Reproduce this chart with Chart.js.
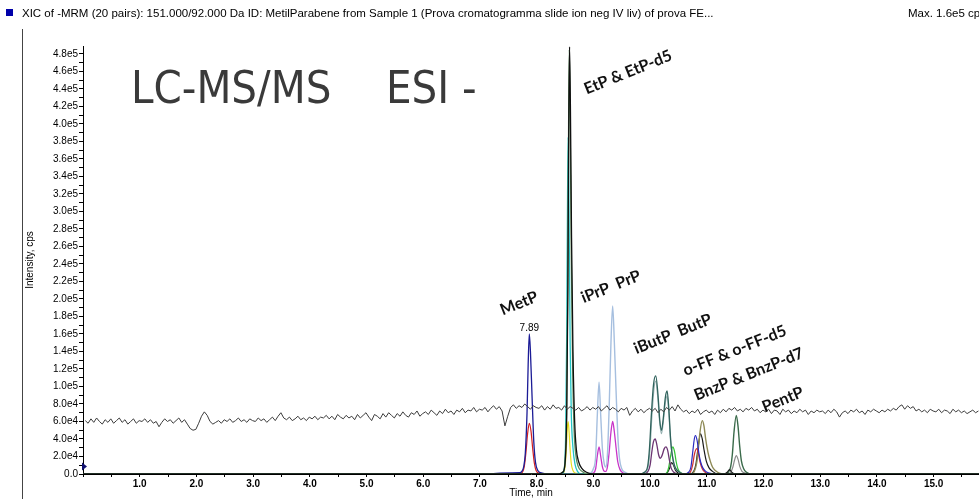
<!DOCTYPE html>
<html><head><meta charset="utf-8">
<script src="https://cdn.jsdelivr.net/npm/chart.js@4.4.1/dist/chart.umd.min.js"></script>
<style>html,body{margin:0;padding:0;background:#fff;overflow:hidden}canvas{display:block}</style>
</head><body><canvas id="c" width="979" height="499"></canvas>
<script>
// ---------------- texts ----------------
const HEADER_TEXT = "XIC of -MRM (20 pairs): 151.000/92.000 Da ID: MetilParabene from Sample 1 (Prova cromatogramma slide ion neg IV liv) of prova FE...";
const MAX_TEXT = "Max. 1.6e5 cps.";
const TITLE_LEFT = "LC-MS/MS";
const TITLE_RIGHT = "ESI -";
const X_TITLE = "Time, min";
const Y_TITLE = "Intensity, cps";
const APEX_LABEL = "7.89";
const PEAK_NAMES = ["MetP", "EtP & EtP-d5", "iPrP  PrP", "iButP  ButP", "o-FF & o-FF-d5", "BnzP & BnzP-d7", "PentP"];

// ---------------- tick labels ----------------
const X_TICK_LABELS = ["1.0","2.0","3.0","4.0","5.0","6.0","7.0","8.0","9.0","10.0","11.0","12.0","13.0","14.0","15.0"];
const Y_TICK_LABELS = ["0.0","2.0e4","4.0e4","6.0e4","8.0e4","1.0e5","1.2e5","1.4e5","1.6e5","1.8e5","2.0e5","2.2e5","2.4e5","2.6e5","2.8e5","3.0e5","3.2e5","3.4e5","3.6e5","3.8e5","4.0e5","4.2e5","4.4e5","4.6e5","4.8e5"];

// ---------------- data (time in min, intensity in thousands of cps) ----------------
// total ion noise trace, sampled every 0.05 min from 0.04 min
const NOISE_T0 = 0.04, NOISE_DT = 0.05;
const noiseTrace = [
 61,58,63,59,64,60,57,62,59,63,58,61,64,59,62,57,60,63,58,61,
 60,63,59,62,58,60,54,59,63,60,62,58,61,64,59,62,57,52,50,51,
 58,66,71,67,60,57,59,61,58,62,60,63,59,61,64,60,62,59,63,61,
 60,64,61,63,59,62,65,61,66,70,64,62,65,61,63,66,62,64,61,65,
 63,66,62,65,64,67,63,66,62,68,65,63,67,64,66,62,68,64,67,70,
 65,61,68,66,63,69,65,70,67,64,69,66,71,67,65,70,68,72,66,69,
 71,68,73,70,67,72,69,74,70,72,68,73,71,75,70,73,72,76,71,74,
 73,76,71,75,78,74,77,72,55,66,76,79,75,78,76,80,77,74,78,76,
 75,78,73,77,74,79,75,76,73,78,74,77,75,73,76,72,74,77,73,76,
 74,77,72,75,78,73,76,74,71,75,73,76,67,72,75,71,74,70,73,75,
 72,75,70,74,71,76,73,77,72,79,74,71,73,69,72,70,74,68,71,73,
 70,72,68,73,70,74,71,75,73,76,72,74,71,75,73,76,72,74,70,73,
 71,74,69,73,72,68,74,71,73,69,72,70,74,71,73,68,72,70,73,71,
 72,69,73,70,74,71,65,70,72,69,73,71,74,70,72,68,73,71,74,72,
 70,73,71,74,72,75,73,77,79,74,78,75,77,72,74,71,73,70,74,72,
 71,74,70,73,72,69,74,71,73,70,72,69,71,73,70,72
];
const metpBlue = [[7.20,0.5],[7.35,1],[7.55,1.3],[7.70,1.5],[7.74,3],[7.77,8],[7.80,24],[7.83,70],[7.85,125],[7.87,160],[7.89,140],[7.92,86],[7.95,36],[7.98,13],[8.02,4],[8.10,1],[8.30,0]];
const metpRed = [[7.68,0],[7.75,2],[7.78,8],[7.81,24],[7.84,46],[7.87,58],[7.90,49],[7.93,29],[7.96,12],[7.99,4],[8.04,1],[8.20,0]];
const etpBlack = [[8.38,0],[8.46,2],[8.50,12],[8.53,70],[8.55,210],[8.565,390],[8.58,488],[8.595,420],[8.615,270],[8.64,140],[8.67,60],[8.70,28],[8.74,14],[8.80,6],[8.88,2],[9.00,0]];
const etpGreen = [[8.38,0],[8.47,3],[8.50,15],[8.53,80],[8.55,230],[8.563,400],[8.575,485],[8.59,410],[8.61,250],[8.635,120],[8.66,50],[8.69,22],[8.73,9],[8.80,3],[8.90,0]];
const etpCyan = [[8.40,0],[8.46,1],[8.49,8],[8.51,40],[8.53,160],[8.545,320],[8.555,385],[8.57,300],[8.59,150],[8.61,70],[8.64,30],[8.68,10],[8.72,3],[8.78,0]];
const etpYellow = [[8.42,0],[8.47,1],[8.50,8],[8.52,25],[8.54,52],[8.555,60],[8.57,50],[8.59,28],[8.61,12],[8.64,4],[8.68,1],[8.75,0]];
const prpLightBlue = [[8.85,0],[8.95,1],[9.00,6],[9.04,20],[9.07,68],[9.10,105],[9.13,66],[9.16,28],[9.19,12],[9.22,8],[9.25,25],[9.28,80],[9.31,150],[9.34,192],[9.37,150],[9.40,95],[9.43,45],[9.46,18],[9.50,6],[9.56,2],[9.65,0]];
const prpMagenta = [[8.90,0],[9.00,1],[9.04,6],[9.07,21],[9.10,31],[9.13,20],[9.16,8],[9.20,3],[9.22,3],[9.25,9],[9.28,26],[9.31,48],[9.34,60],[9.37,48],[9.40,30],[9.43,14],[9.47,5],[9.53,1],[9.62,0]];
const butpTeal = [[9.80,0],[9.90,2],[9.96,10],[9.99,30],[10.02,65],[10.06,102],[10.10,112],[10.14,90],[10.17,62],[10.20,50],[10.23,62],[10.27,88],[10.30,95],[10.33,75],[10.36,42],[10.38,27],[10.41,15],[10.44,8],[10.50,3],[10.60,0]];
const butpLight = [[9.82,0],[9.92,2],[9.97,10],[10.00,30],[10.03,64],[10.07,98],[10.10,106],[10.14,84],[10.17,58],[10.20,46],[10.23,58],[10.27,82],[10.30,89],[10.33,70],[10.36,38],[10.39,22],[10.42,11],[10.46,5],[10.52,2],[10.60,0]];
const butpPurple = [[9.85,0],[9.95,2],[10.00,10],[10.03,25],[10.06,37],[10.09,40],[10.12,33],[10.15,22],[10.18,18],[10.21,21],[10.25,29],[10.28,31],[10.31,27],[10.34,16],[10.37,7],[10.42,2],[10.50,0]];
const offGreen = [[10.25,0],[10.30,2],[10.33,8],[10.36,20],[10.40,31],[10.43,26],[10.46,14],[10.49,6],[10.53,2],[10.60,0]];
const offBlack = [[10.25,0],[10.31,2],[10.34,6],[10.38,13],[10.42,9],[10.45,4],[10.50,1],[10.56,0],[11.30,0],[11.36,2],[11.40,5],[11.44,2],[11.50,0]];
const bnzBlue = [[10.60,0],[10.68,2],[10.72,8],[10.75,24],[10.78,40],[10.80,44],[10.83,38],[10.86,24],[10.89,14],[10.93,7],[10.98,3],[11.05,1],[11.15,0]];
const bnzRed = [[10.65,0],[10.71,2],[10.75,10],[10.78,22],[10.82,29],[10.85,24],[10.88,14],[10.92,6],[10.97,2],[11.05,0]];
const bnzOlive = [[10.72,0],[10.78,3],[10.82,12],[10.85,28],[10.88,48],[10.92,61],[10.95,55],[10.98,40],[11.02,25],[11.06,15],[11.10,8],[11.15,4],[11.22,1],[11.30,0]];
const bnzBlack = [[10.70,0],[10.77,3],[10.81,12],[10.85,32],[10.89,46],[10.92,40],[10.95,28],[10.99,15],[11.04,7],[11.10,3],[11.20,0]];
const pentGreen = [[11.30,0],[11.38,2],[11.42,8],[11.45,22],[11.48,48],[11.52,67],[11.55,55],[11.58,32],[11.61,15],[11.65,6],[11.70,2],[11.80,0]];
const pentGray = [[11.35,0],[11.42,2],[11.46,8],[11.49,16],[11.52,21],[11.55,17],[11.58,9],[11.62,3],[11.68,1],[11.75,0]];

// ---------------- chart ----------------
const X_MIN = 0, X_MAX = 15.8, Y_MIN = 0, Y_MAX = 489;
const FONT = '"Liberation Sans", Arial, sans-serif';

function peakSet(points, color, width, order) {
  const data = [{x: X_MIN, y: 0}].concat(points.map(p => ({x: p[0], y: p[1]})), [{x: X_MAX, y: 0}]);
  return {data, borderColor: color, borderWidth: width || 1.2, cubicInterpolationMode: 'monotone', pointRadius: 0, order: order || 5};
}
const noiseData = noiseTrace.map((v, i) => ({x: NOISE_T0 + i * NOISE_DT, y: v}));

const datasets = [
  {data: noiseData, borderColor: '#3c3c3c', borderWidth: 1, tension: 0, pointRadius: 0, order: 1},
  peakSet(etpBlack, '#101010', 1.3, 2),
  peakSet(etpGreen, '#5a8a5a', 1.3, 3),
  peakSet(etpCyan, '#22c4c4', 1.3, 4),
  peakSet(etpYellow, '#e6dc1e', 1.2),
  peakSet(metpBlue, '#1b1b96', 1.3),
  peakSet(metpRed, '#d42020', 1.2),
  peakSet(prpLightBlue, '#a6bfdf', 1.4),
  peakSet(prpMagenta, '#c834c8', 1.3),
  peakSet(butpTeal, '#2f625c', 1.3, 3),
  peakSet(butpLight, '#9ab4b4', 1.2, 4),
  peakSet(butpPurple, '#6c3572', 1.3),
  peakSet(offGreen, '#33c433', 1.2),
  peakSet(offBlack, '#1a1a1a', 1.2),
  peakSet(bnzBlue, '#2a2ac0', 1.2),
  peakSet(bnzRed, '#d03030', 1.2),
  peakSet(bnzOlive, '#8e8a56', 1.4),
  peakSet(bnzBlack, '#1a1a1a', 1.2),
  peakSet(pentGreen, '#3a6a4a', 1.4),
  peakSet(pentGray, '#8a8a8a', 1.2)
];

const PEAK_LABEL_ANCHORS = [[7.69,195],[9.61,459],[9.31,214],[10.40,160],[11.49,141],[11.74,114],[12.34,85]];

const overlay = {
  id: 'overlay',
  afterDraw(chart) {
    const {ctx, scales: {x, y}} = chart;
    ctx.save();
    // header
    ctx.fillStyle = '#0000aa';
    ctx.fillRect(6, 9, 7, 7);
    ctx.fillStyle = '#000';
    ctx.font = '11.5px ' + FONT;
    ctx.textAlign = 'left';
    ctx.textBaseline = 'middle';
    ctx.fillText(HEADER_TEXT, 22, 14);
    ctx.fillText(MAX_TEXT, 908, 14);
    // panel border
    ctx.strokeStyle = '#444';
    ctx.lineWidth = 1;
    ctx.beginPath(); ctx.moveTo(22.5, 29); ctx.lineTo(22.5, 499); ctx.stroke();
    // big title
    ctx.fillStyle = '#3a3a3a';
    ctx.font = '45px "DejaVu Sans Condensed", "DejaVu Sans", sans-serif';
    ctx.textBaseline = 'alphabetic';
    ctx.fillText(TITLE_LEFT, 131, 103);
    ctx.fillText(TITLE_RIGHT, 386, 103);
    // peak name annotations
    ctx.fillStyle = '#111';
    ctx.font = 'bold 16px Lato, "Open Sans", sans-serif';
    ctx.textAlign = 'center';
    ctx.textBaseline = 'middle';
    PEAK_NAMES.forEach((name, i) => {
      const a = PEAK_LABEL_ANCHORS[i];
      ctx.save();
      ctx.translate(x.getPixelForValue(a[0]), y.getPixelForValue(a[1]));
      ctx.rotate(-22 * Math.PI / 180);
      ctx.fillText(name, 0, 0);
      ctx.restore();
    });
    // apex label
    ctx.font = '10px ' + FONT;
    ctx.fillStyle = '#000';
    ctx.textBaseline = 'bottom';
    ctx.fillText(APEX_LABEL, x.getPixelForValue(7.87), y.getPixelForValue(160) - 1);
    // start marker on y axis
    const mx = x.getPixelForValue(0), my = y.getPixelForValue(8.6);
    ctx.fillStyle = '#101070';
    ctx.beginPath(); ctx.moveTo(mx - 1, my - 4); ctx.lineTo(mx + 4, my); ctx.lineTo(mx - 1, my + 4); ctx.closePath(); ctx.fill();
    ctx.restore();
  }
};

new Chart(document.getElementById('c'), {
  type: 'line',
  data: {datasets},
  options: {
    responsive: false, animation: false, devicePixelRatio: 1,
    layout: {padding: {top: 46, left: 0, right: 0, bottom: 0}},
    plugins: {legend: {display: false}, tooltip: {enabled: false}},
    elements: {point: {radius: 0}},
    scales: {
      x: {
        type: 'linear', min: X_MIN, max: X_MAX,
        afterFit(s) { s.height = 25; },
        ticks: {stepSize: 0.5, autoSkip: false, maxRotation: 0, includeBounds: false, padding: 1, color: '#000',
          font: {family: FONT, size: 10, weight: 'bold'},
          callback(v) { const r = Math.round(v * 2) / 2; return (Number.isInteger(r) && r >= 1) ? X_TICK_LABELS[r - 1] : ''; }},
        grid: {drawOnChartArea: false, tickLength: 3, color: '#000'},
        border: {display: true, color: '#000', width: 1},
        title: {display: true, text: X_TITLE, color: '#000', padding: {top: 0, bottom: 0}, font: {family: FONT, size: 10}}
      },
      y: {
        type: 'linear', min: Y_MIN, max: Y_MAX,
        afterFit(s) { s.width = 83; },
        ticks: {stepSize: 10, autoSkip: false, includeBounds: false, padding: 1, color: '#000',
          font: {family: FONT, size: 10},
          callback(v) { const r = Math.round(v); return (r % 20 === 0) ? Y_TICK_LABELS[r / 20] : ''; }},
        grid: {drawOnChartArea: false, tickLength: 4, color: '#000'},
        border: {display: true, color: '#000', width: 1},
        title: {display: true, text: Y_TITLE, color: '#000', padding: {top: 24, bottom: 0}, font: {family: FONT, size: 10}}
      }
    }
  },
  plugins: [overlay]
});
</script>
</body></html>
